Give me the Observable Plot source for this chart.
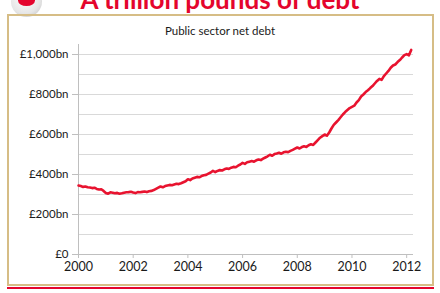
<!DOCTYPE html>
<html>
<head>
<meta charset="utf-8">
<script src="https://cdn.jsdelivr.net/npm/d3@7"></script>
<script src="https://cdn.jsdelivr.net/npm/@observablehq/plot@0.6"></script>
<style>
  html, body { margin: 0; padding: 0; background: #fff; }
  #page { position: relative; width: 440px; height: 293px; overflow: hidden; font-family: Lato, "Open Sans", sans-serif; }
  #bigtitle { position: absolute; left: 0; width: 440px; top: -17px; text-align: center; padding-left: 0px;
    font: bold 26px Lato, sans-serif; color: #e4052d; white-space: nowrap; letter-spacing: 0px; }
  #logo { position: absolute; left: 11px; top: -14px; width: 31px; height: 31px; border-radius: 50%;
    background: radial-gradient(circle at 45% 40%, #ffffff 0%, #e6e6e6 60%, #b9b9b9 100%); }
  #logo::after { content: ""; position: absolute; left: 7px; top: 9px; width: 17px; height: 11px; border-radius: 50%;
    background: #e4052d; }
  #frame { position: absolute; left: 7px; top: 14px; width: 423px; height: 268px; border: 2px solid #d6bd86; }
  #redline { position: absolute; left: 7px; top: 287px; width: 427px; height: 2px; background: #e4052d; }
  #subtitle { position: absolute; left: 0; width: 440px; top: 24px; text-align: center;
    font: 11.5px Lato, sans-serif; color: #1a1a1a; }
  #chart { position: absolute; left: 0; top: 0; }
</style>
</head>
<body>
<div id="page">
  <div id="bigtitle">A trillion pounds of debt</div>
  <div id="logo"></div>
  <div id="frame"></div>
  <div id="redline"></div>
  <div id="subtitle">Public sector net debt</div>
  <div id="chart"></div>
</div>
<script>
// Monthly public sector net debt (£bn), Jan 2000 – Mar 2012
const startYear = 2000;
const debt2000 = [345, 342, 338, 340, 336, 335, 332, 334, 328, 325, 326, 318];
const debt2001 = [308, 304, 311, 309, 306, 308, 304, 306, 309, 311, 312, 314];
const debt2002 = [310, 307, 312, 311, 313, 315, 312, 316, 318, 322, 328, 334];
const debt2003 = [340, 336, 342, 345, 348, 346, 350, 354, 352, 356, 361, 366];
const debt2004 = [376, 372, 380, 384, 388, 386, 392, 396, 398, 404, 410, 418];
const debt2005 = [412, 418, 422, 420, 426, 430, 428, 434, 438, 436, 444, 450];
const debt2006 = [458, 453, 461, 464, 467, 464, 471, 475, 472, 479, 485, 491];
const debt2007 = [499, 494, 502, 505, 509, 504, 511, 514, 512, 518, 523, 529];
const debt2008 = [535, 530, 537, 541, 538, 546, 551, 548, 560, 572, 584, 592];
const debt2009 = [600, 594, 610, 630, 648, 660, 672, 686, 700, 712, 722, 732];
const debt2010 = [738, 744, 760, 772, 790, 800, 812, 821, 832, 842, 855, 868];
const debt2011 = [878, 873, 892, 905, 918, 934, 945, 950, 962, 972, 985, 997];
const debt2012 = [1002, 996, 1023];

const xTicks = [2000, 2002, 2004, 2006, 2008, 2010, 2012];
const yTicks = [0, 200, 400, 600, 800, 1000];
const yTickLabels = ["£0", "£200bn", "£400bn", "£600bn", "£800bn", "£1,000bn"];
const gridValues = [100, 200, 300, 400, 500, 600, 700, 800, 900, 1000];

const allValues = [debt2000, debt2001, debt2002, debt2003, debt2004, debt2005, debt2006,
  debt2007, debt2008, debt2009, debt2010, debt2011, debt2012].flat();
const data = allValues.map((v, i) => ({ t: startYear + i / 12, v }));

const chart = Plot.plot({
  width: 440,
  height: 293,
  marginLeft: 78,
  marginRight: 27,
  marginTop: 44,
  marginBottom: 39,
  style: { background: "transparent", fontFamily: "Lato, sans-serif", color: "#1a1a1a" },
  x: { domain: [2000, 2012.25], label: null },
  y: { domain: [0, 1050], label: null },
  marks: [
    Plot.ruleY(gridValues, { stroke: "#d9d9d9", strokeWidth: 1 }),
    Plot.ruleX([2000], { stroke: "#bfbfbf", strokeWidth: 1 }),
    Plot.ruleY([0], { stroke: "#bfbfbf", strokeWidth: 1 }),
    Plot.axisY(yTicks, {
      tickSize: 6, tickPadding: 4, stroke: "#bfbfbf",
      tickFormat: (d) => yTickLabels[yTicks.indexOf(d)],
      fontSize: 11.5, fill: "#1a1a1a", label: null
    }),
    Plot.axisX(xTicks, {
      tickSize: 4, tickPadding: 4, stroke: "#bfbfbf",
      tickFormat: (d) => String(d),
      fontSize: 12.5, fill: "#1a1a1a", label: null
    }),
    Plot.lineY(data, { x: "t", y: "v", stroke: "#e8132f", strokeWidth: 2.6, strokeLinejoin: "round" })
  ]
});
document.getElementById("chart").appendChild(chart);
</script>
</body>
</html>
